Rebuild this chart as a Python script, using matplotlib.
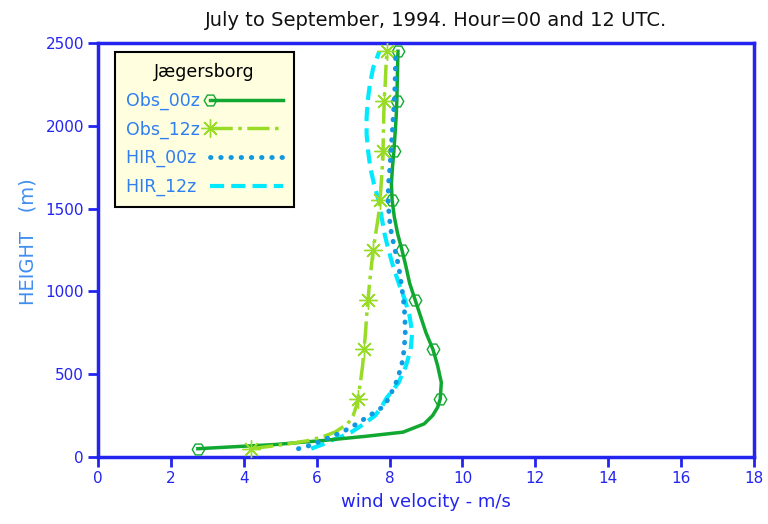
import numpy as np
import matplotlib
matplotlib.use("Agg")
import matplotlib.pyplot as plt

plt.rcParams['font.family'] = ['DejaVu Sans']

# heights (m) of the profile levels
heights = [50, 75, 100, 125, 150, 200, 250, 300, 350, 450, 550, 650, 750, 850,
           950, 1050, 1150, 1250, 1350, 1450, 1550, 1650, 1750, 1850, 1950,
           2050, 2150, 2250, 2350, 2450]
marker_heights = [50, 350, 650, 950, 1250, 1550, 1850, 2150, 2450]

obs_00z = [2.74, 4.85, 6.2, 7.35, 8.37, 8.95, 9.18, 9.32, 9.39, 9.42, 9.32, 9.19,
           9.0, 8.85, 8.7, 8.55, 8.45, 8.34, 8.22, 8.13, 8.07, 8.05, 8.08, 8.12,
           8.15, 8.18, 8.2, 8.21, 8.22, 8.23]
obs_12z = [4.2, 5.1, 5.8, 6.2, 6.5, 6.85, 7.0, 7.08, 7.13, 7.2, 7.26, 7.3, 7.34,
           7.37, 7.41, 7.45, 7.5, 7.55, 7.62, 7.69, 7.74, 7.77, 7.8, 7.82, 7.83,
           7.84, 7.85, 7.88, 7.9, 7.93]
hir_00z = [5.5, 5.9, 6.15, 6.42, 6.7, 7.1, 7.45, 7.8, 7.97, 8.18, 8.33, 8.4, 8.43,
           8.42, 8.38, 8.32, 8.25, 8.15, 8.05, 7.99, 7.96, 7.97, 8.01, 8.04, 8.07,
           8.1, 8.13, 8.15, 8.16, 8.17]
hir_12z = [5.85, 6.15, 6.4, 6.7, 6.95, 7.3, 7.6, 7.78, 7.9, 8.25, 8.45, 8.58, 8.62,
           8.55, 8.42, 8.25, 8.1, 7.97, 7.86, 7.78, 7.7, 7.57, 7.47, 7.41, 7.37,
           7.37, 7.4, 7.46, 7.55, 7.72]

# legend labels; thin space pads the HIR names to the width of the Obs names
labels = ['Obs_00z', 'Obs_12z', 'HIR_00z\u2009', 'HIR_12z\u2009']

mark_idx = list(np.nonzero(np.isin(heights, marker_heights))[0])

axis_blue = '#2424f0'

fig = plt.figure(figsize=(7.68, 5.24), dpi=100)
ax = fig.add_axes([0.1276, 0.1279, 0.8542, 0.7901])

ax.plot(obs_00z, heights, color='#10a830', lw=2.5, marker='H', ms=9,
        mfc='none', mec='#10a830', mew=1, markevery=mark_idx, label=labels[0],
        zorder=3)
ax.plot(obs_12z, heights, color='#98dc28', lw=2.5, ls='-.', marker=(8, 2, 0),
        ms=13, mec='#98dc28', mew=1, markevery=mark_idx, label=labels[1],
        zorder=3)
ax.plot(hir_00z, heights, color='#1298e0', lw=3.5, ls=(0, (0.1, 2.0)),
        dash_capstyle='round', label=labels[2], zorder=4)
ax.plot(hir_12z, heights, color='#00eaff', lw=3, ls=(0, (3.4, 1.7)),
        label=labels[3], zorder=2)

ax.set_xlim(0, 18)
ax.set_ylim(0, 2500)
ax.set_xticks(range(0, 19, 2))
ax.set_yticks(range(0, 2501, 500))

for sp in ax.spines.values():
    sp.set_color(axis_blue)
    sp.set_linewidth(2.5)
ax.tick_params(colors=axis_blue, width=2, length=7, labelsize=11, pad=3)

ax.set_xlabel('wind velocity - m/s', color=axis_blue, fontsize=13, labelpad=5)
ax.set_ylabel('HEIGHT   (m)', color='#3f8ef0', fontsize=14)
ax.yaxis.set_label_coords(-0.092, 0.52)
ax.set_title('July to September, 1994. Hour=00 and 12 UTC.', fontsize=14,
             color='#111111', pad=12, x=0.515)

leg = ax.legend(title='Jægersborg', loc='upper left',
                bbox_to_anchor=(0.026, 0.978), markerfirst=False,
                fontsize=12.5, title_fontsize=12.5, frameon=True, fancybox=False,
                handlelength=4.2, handletextpad=0.55, borderpad=0.65,
                labelspacing=0.6, borderaxespad=0)
leg.set_zorder(10)
leg.get_frame().set_facecolor('#ffffe0')
leg.get_frame().set_edgecolor('black')
leg.get_frame().set_linewidth(1.5)
leg.get_frame().set_alpha(1)
for txt in leg.get_texts():
    txt.set_color('#2f7ff0')
# marker sits at the left end of the legend line, as in the original
for h in leg.legend_handles[:2]:
    h.set_markevery([0])

fig.savefig('out.png', dpi=100)
